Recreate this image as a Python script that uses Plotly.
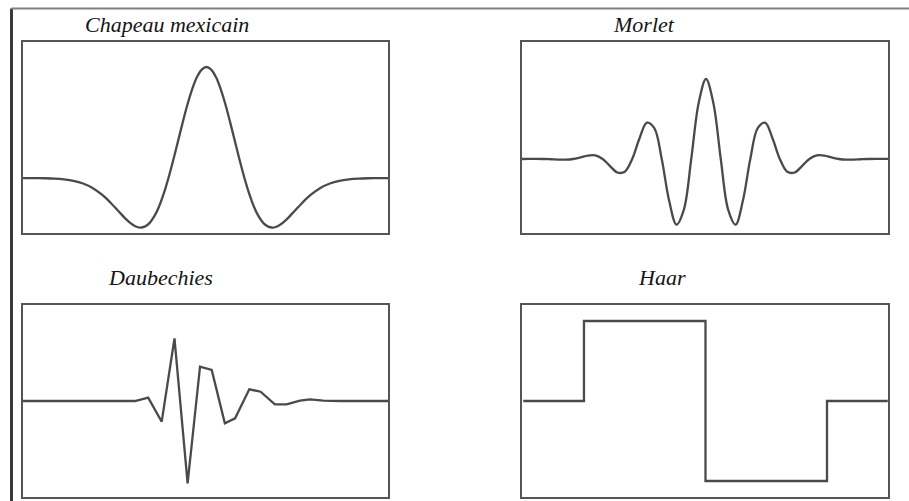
import plotly.graph_objects as go

# --- Mexican hat wavelet samples (denser around the central lobe) ---
hat_t = [-5.0, -4.75, -4.5, -4.25, -4.0, -3.75, -3.5, -3.25, -3.0, -2.75,
         -2.625, -2.5, -2.375, -2.25, -2.125, -2.0, -1.875, -1.75, -1.625, -1.5,
         -1.375, -1.25, -1.125, -1.0, -0.875, -0.75, -0.625, -0.5, -0.375, -0.25,
         -0.125, 0.0, 0.125, 0.25, 0.375, 0.5, 0.625, 0.75, 0.875, 1.0,
         1.125, 1.25, 1.375, 1.5, 1.625, 1.75, 1.875, 2.0, 2.125, 2.25,
         2.375, 2.5, 2.625, 2.75, 3.0, 3.25, 3.5, 3.75, 4.0, 4.25,
         4.5, 4.75, 5.0]
hat_y = [0.0, 0.0, -0.001, -0.002, -0.005, -0.012, -0.025, -0.049, -0.089, -0.150,
         -0.188, -0.231, -0.277, -0.323, -0.368, -0.406, -0.434, -0.446, -0.438, -0.406,
         -0.346, -0.258, -0.141, 0.0, 0.160, 0.330, 0.501, 0.662, 0.801, 0.909,
         0.977, 1.0, 0.977, 0.909, 0.801, 0.662, 0.501, 0.330, 0.160, 0.0,
         -0.141, -0.258, -0.346, -0.406, -0.438, -0.446, -0.434, -0.406, -0.368, -0.323,
         -0.277, -0.231, -0.188, -0.150, -0.089, -0.049, -0.025, -0.012, -0.005, -0.002,
         -0.001, 0.0, 0.0]

# --- Morlet wavelet samples ---
morlet_t = [-3.927, -3.770, -3.613, -3.456, -3.299, -3.142, -2.985, -2.827, -2.670, -2.513,
            -2.356, -2.199, -2.042, -1.885, -1.728, -1.571, -1.414, -1.257, -1.100, -0.942,
            -0.785, -0.628, -0.471, -0.314, -0.157, 0.0, 0.157, 0.314, 0.471, 0.628,
            0.785, 0.942, 1.100, 1.257, 1.414, 1.571, 1.728, 1.885, 2.042, 2.199,
            2.356, 2.513, 2.670, 2.827, 2.985, 3.142, 3.299, 3.456, 3.613, 3.770, 3.927]
morlet_y = [0.0, 0.001, 0.001, 0.0, -0.003, -0.007, -0.008, 0.0, 0.020, 0.043,
            0.044, 0.0, -0.088, -0.169, -0.159, 0.0, 0.260, 0.454, 0.386, 0.0,
            -0.520, -0.821, -0.633, 0.0, 0.698, 1.0, 0.698, 0.0, -0.633, -0.821,
            -0.520, 0.0, 0.386, 0.454, 0.260, 0.0, -0.159, -0.169, -0.088, 0.0,
            0.044, 0.043, 0.020, 0.0, -0.008, -0.007, -0.003, 0.0, 0.001, 0.001, 0.0]

# --- Daubechies wavelet samples ---
daub_t = [0.0, 3.07, 3.43, 3.80, 4.15, 4.51, 4.85, 5.17, 5.53, 5.81,
          6.20, 6.51, 6.90, 7.22, 7.59, 7.86, 8.23, 8.68, 10.0]
daub_y = [0.0, 0.0, 0.055, -0.345, 1.045, -1.372, 0.572, 0.517, -0.372, -0.288,
          0.195, 0.155, -0.055, -0.055, 0.005, 0.028, 0.005, 0.0, 0.0]

# --- Haar wavelet ---
haar_t = [-0.25, 0.0, 0.0, 0.5, 0.5, 1.0, 1.0, 1.25]
haar_y = [0.0, 0.0, 1.0, 1.0, -1.0, -1.0, 0.0, 0.0]

titles = ["Chapeau mexicain", "Morlet", "Daubechies", "Haar"]

W, H = 909, 501
CURVE = "#4a4a4a"
FRAME = "#555555"


def px_x(v):
    return v / W


def px_y(v):
    return (H - v) / H


panels = [
    # (x, y, shape, x-range, y-range, pixel box left, right, top, bottom)
    (hat_t, hat_y, "spline", [-4.83, 4.78], [-0.495, 1.225], 23, 388, 42, 233),
    (morlet_t, morlet_y, "spline", [-3.915, 3.872], [-0.925, 1.4625], 522, 888, 42, 233),
    (daub_t, daub_y, "linear", [0, 10], [-1.6, 1.6], 23, 388, 305, 497),
    (haar_t, haar_y, "linear", [-0.255, 1.251], [-1.2, 1.2], 522, 888, 305, 497),
]

fig = go.Figure()
layout = {}
for i, (xs, ys, shape, xr, yr, left, right, top, bottom) in enumerate(panels, start=1):
    sfx = "" if i == 1 else str(i)
    fig.add_trace(go.Scatter(
        x=xs, y=ys, mode="lines",
        line=dict(color=CURVE, width=2.3, shape=shape, smoothing=1.0),
        xaxis="x" + sfx, yaxis="y" + sfx, showlegend=False, hoverinfo="skip",
    ))
    common = dict(showline=True, linecolor=FRAME, linewidth=2, mirror=True,
                  showgrid=False, zeroline=False, showticklabels=False,
                  ticks="", fixedrange=True)
    layout["xaxis" + sfx] = dict(domain=[px_x(left), px_x(right)], range=xr,
                                 anchor="y" + sfx, **common)
    layout["yaxis" + sfx] = dict(domain=[px_y(bottom), px_y(top)], range=yr,
                                 anchor="x" + sfx, **common)

fig.update_layout(**layout)

# panel titles
title_pos = [(167, 25), (644, 25), (160, 277), (662, 277)]
for text, (cx, cy) in zip(titles, title_pos):
    fig.add_annotation(
        text=text, x=px_x(cx), y=px_y(cy), xref="paper", yref="paper",
        xanchor="center", yanchor="middle", showarrow=False,
        font=dict(family="Liberation Serif", size=22, color="#141414",
                  style="italic"),
    )

# outer frame: left rule and top rule
fig.add_shape(type="line", xref="paper", yref="paper",
              x0=px_x(11.5), x1=px_x(11.5), y0=0, y1=px_y(8.5),
              line=dict(color="#3a3a3a", width=3))
fig.add_shape(type="line", xref="paper", yref="paper",
              x0=px_x(11.5), x1=1, y0=px_y(8.5), y1=px_y(8.5),
              line=dict(color="#808080", width=2))

fig.update_layout(
    width=W, height=H,
    margin=dict(l=0, r=0, t=0, b=0),
    paper_bgcolor="white", plot_bgcolor="white",
    showlegend=False,
)

fig.write_html("out.html", config={"displayModeBar": False})
